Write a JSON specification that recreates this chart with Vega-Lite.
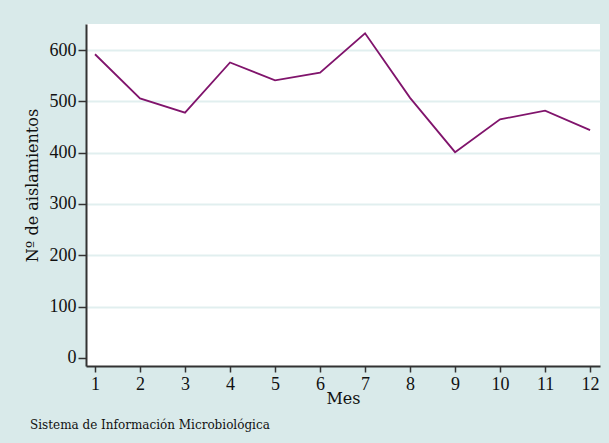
{
  "$schema": "https://vega.github.io/schema/vega-lite/v6.json",
  "autosize": {"type": "none"},
  "width": 514,
  "height": 342,
  "padding": {"left": 86, "top": 24, "right": 9, "bottom": 77},
  "background": "#d9eaea",
  "config": {
    "font": "Liberation Serif",
    "view": {"fill": "white", "stroke": null}
  },
  "title": {
    "text": "Sistema de Información Microbiológica",
    "orient": "bottom",
    "anchor": "start",
    "frame": "group",
    "dx": -56,
    "offset": 14,
    "fontSize": 12,
    "fontWeight": "normal",
    "color": "#111111",
    "font": "DejaVu Serif"
  },
  "data": {
    "values": [
      {"mes": 1, "n": 592},
      {"mes": 2, "n": 506},
      {"mes": 3, "n": 478},
      {"mes": 4, "n": 576},
      {"mes": 5, "n": 541},
      {"mes": 6, "n": 556},
      {"mes": 7, "n": 633},
      {"mes": 8, "n": 507},
      {"mes": 9, "n": 401},
      {"mes": 10, "n": 465},
      {"mes": 11, "n": 482},
      {"mes": 12, "n": 444}
    ]
  },
  "mark": {"type": "line", "color": "#80146c", "strokeWidth": 1.8},
  "encoding": {
    "x": {
      "field": "mes",
      "type": "quantitative",
      "scale": {"domain": [0.8, 12.22], "nice": false, "zero": false},
      "axis": {
        "title": "Mes",
        "values": [1,2,3,4,5,6,7,8,9,10,11,12],
        "grid": false,
        "domainColor": "#333333",
        "domainWidth": 2,
        "tickColor": "#333333",
        "tickWidth": 1.5,
        "tickSize": 6,
        "labelFontSize": 18,
        "labelColor": "#111111",
        "labelPadding": 3,
        "titleFont": "DejaVu Serif",
        "titleFontSize": 16,
        "titleFontWeight": "normal",
        "titleColor": "#111111",
        "titlePadding": -3
      }
    },
    "y": {
      "field": "n",
      "type": "quantitative",
      "scale": {"domain": [-16, 651], "nice": false, "zero": false},
      "axis": {
        "title": "Nº de aislamientos",
        "values": [0,100,200,300,400,500,600],
        "grid": true,
        "gridColor": "#e1efef",
        "gridWidth": 2,
        "gridOpacity": {"condition": {"test": "datum.value == 0", "value": 0}, "value": 1},
        "domainColor": "#333333",
        "domainWidth": 2,
        "tickColor": "#333333",
        "tickWidth": 1.5,
        "tickSize": 8,
        "labelFontSize": 18,
        "labelColor": "#111111",
        "labelPadding": 2,
        "titleFont": "DejaVu Serif",
        "titleFontSize": 16,
        "titleFontWeight": "normal",
        "titleColor": "#111111",
        "titlePadding": 9,
        "titleY": 161
      }
    }
  }
}
